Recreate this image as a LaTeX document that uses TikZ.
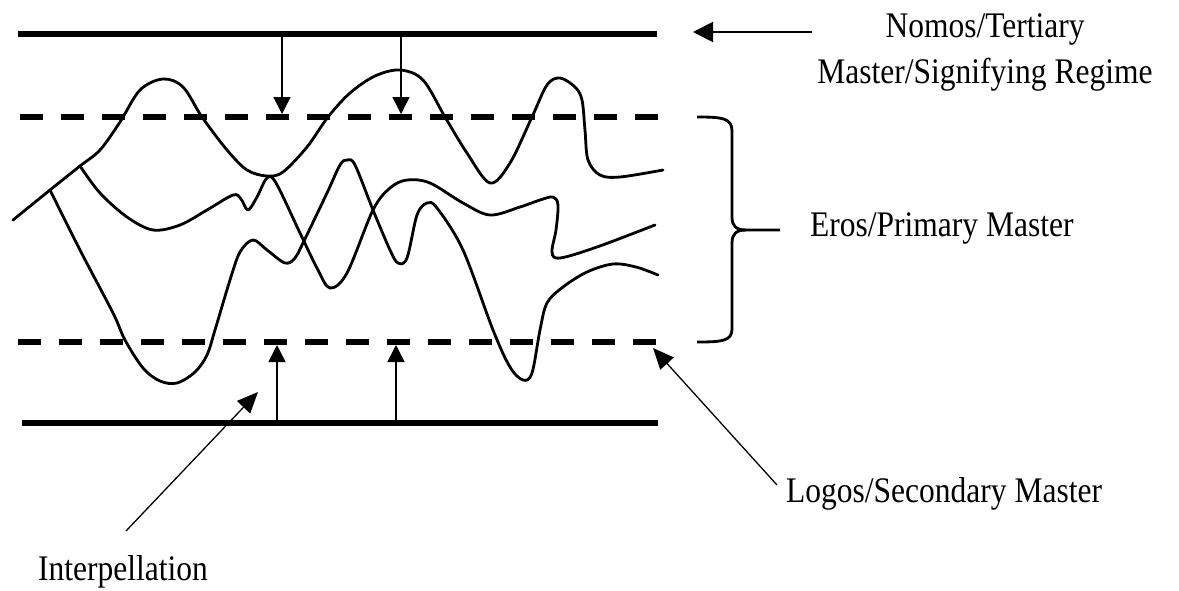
\documentclass[tikz,border=0pt]{standalone}
\usepackage{fontspec}
\setmainfont{Liberation Serif}
\usetikzlibrary{arrows.meta}
\newcommand{\narrowtxt}[1]{\scalebox{0.875}[1]{#1}}
\begin{document}
\begin{tikzpicture}[x=1pt,y=-1pt,
  solidline/.style={line width=6.5pt},
  dashline/.style={line width=6pt, dash pattern=on 23pt off 18pt},
  wave/.style={line width=2.8pt, line join=round, line cap=round},
  vecarrow/.style={line width=1.5pt, -{Triangle[width=17pt,length=17pt]}},
  ptr/.style={line width=1.3pt, -{Triangle[width=18pt,length=21pt]}},
  bigptr/.style={line width=2pt, -{Triangle[width=20pt,length=20pt]}},
  brace/.style={line width=2.8pt, line join=round},
  lbl/.style={font=\fontsize{36}{40}\selectfont, inner sep=0pt}]
\useasboundingbox (0,0) rectangle (1179,590);

% horizontal lines
\coordinate (topL) at (18,34);   \coordinate (topR) at (657,34);
\coordinate (udL) at (20,117);   \coordinate (udR) at (658,117);
\coordinate (ldL) at (18,342);   \coordinate (ldR) at (656,342);
\coordinate (botL) at (22,423);  \coordinate (botR) at (658,423);
\draw[solidline] (topL) -- (topR);
\draw[dashline] (udL) -- (udR);
\draw[dashline] (ldL) -- (ldR);
\draw[solidline] (botL) -- (botR);

% vertical arrows
\coordinate (da1s) at (282,37);  \coordinate (da1e) at (282,114);
\coordinate (da2s) at (401,37);  \coordinate (da2e) at (401,114);
\coordinate (ua1s) at (277,420); \coordinate (ua1e) at (277,345);
\coordinate (ua2s) at (396,420); \coordinate (ua2e) at (396,345);
\draw[vecarrow] (da1s) -- (da1e);
\draw[vecarrow] (da2s) -- (da2e);
\draw[vecarrow] (ua1s) -- (ua1e);
\draw[vecarrow] (ua2s) -- (ua2e);

% wavy curves
\draw[wave] plot[smooth, tension=0.55] coordinates {
 (13,220) (50,190) (80,166) (100,150) (120,122) (140,90) (163,79) (183,87)
 (202,117) (227,150) (247,170) (267,176) (283,172) (307,147) (328,117)
 (350,93) (375,76) (400,70) (423,80) (445,117) (467,153) (490,183) (510,163)
 (532,117) (547,85) (560,78) (575,87) (582,100) (585,130) (588,160) (600,175)
 (620,177) (663,170)};
\draw[wave] plot[smooth, tension=0.55] coordinates {
 (80,166) (100,193) (127,217) (153,230) (180,225) (207,210) (233,195) (241,199)
 (248,210) (257,197) (267,178) (276,183) (300,233) (318,270) (330,288)
 (347,273) (373,210) (390,188) (407,180) (430,183) (463,203) (490,215)
 (520,207) (540,200) (553,197) (558,205) (556,230) (552,252) (560,258)
 (597,247) (655,225)};
\draw[wave] plot[smooth, tension=0.55] coordinates {
 (50,190) (80,250) (113,313) (125,340) (143,368) (160,381) (177,383) (195,372)
 (207,355) (215,330) (230,280) (240,252) (253,240) (267,250) (285,263)
 (295,258) (303,243) (327,193) (340,165) (347,160) (355,165) (373,210)
 (390,250) (398,263) (407,258) (417,215) (427,203) (437,208) (463,250)
 (493,330) (510,367) (523,380) (532,373) (540,330) (547,303) (563,287)
 (587,272) (613,264) (636,267) (658,275)};

% brace
\coordinate (brTop) at (697,117);
\coordinate (brBot) at (697,342);
\coordinate (brTip) at (780,230);
\draw[brace] (brTop) .. controls (722,117) and (732,118) .. (732,131)
  -- (732,217) .. controls (732,226) and (736,230) .. (746,230) -- (brTip);
\draw[brace] (746,230) .. controls (736,230) and (732,234) .. (732,243)
  -- (732,329) .. controls (732,341) and (722,342) .. (brBot);

% labels
\node[lbl, anchor=base] (nomosA) at (985,37) {\narrowtxt{Nomos/Tertiary}};
\node[lbl, anchor=base] (nomosB) at (985,83) {\narrowtxt{Master/Signifying Regime}};
\node[lbl, anchor=base west] (eros) at (810,236) {\narrowtxt{Eros/Primary Master}};
\node[lbl, anchor=base west] (logos) at (786,502) {\narrowtxt{Logos/Secondary Master}};
\node[lbl, anchor=base west] (interp) at (38,580) {\narrowtxt{Interpellation}};

% pointer arrows
\coordinate (nomosTail) at (812,32);  \coordinate (nomosTip) at (693,32);
\coordinate (logosTail) at (777,485); \coordinate (logosTip) at (653,348);
\coordinate (intTail) at (126,531);   \coordinate (intTip) at (258,392);
\draw[bigptr] (nomosTail) -- (nomosTip);
\draw[ptr] (logosTail) -- (logosTip);
\draw[ptr] (intTail) -- (intTip);
\end{tikzpicture}
\end{document}
